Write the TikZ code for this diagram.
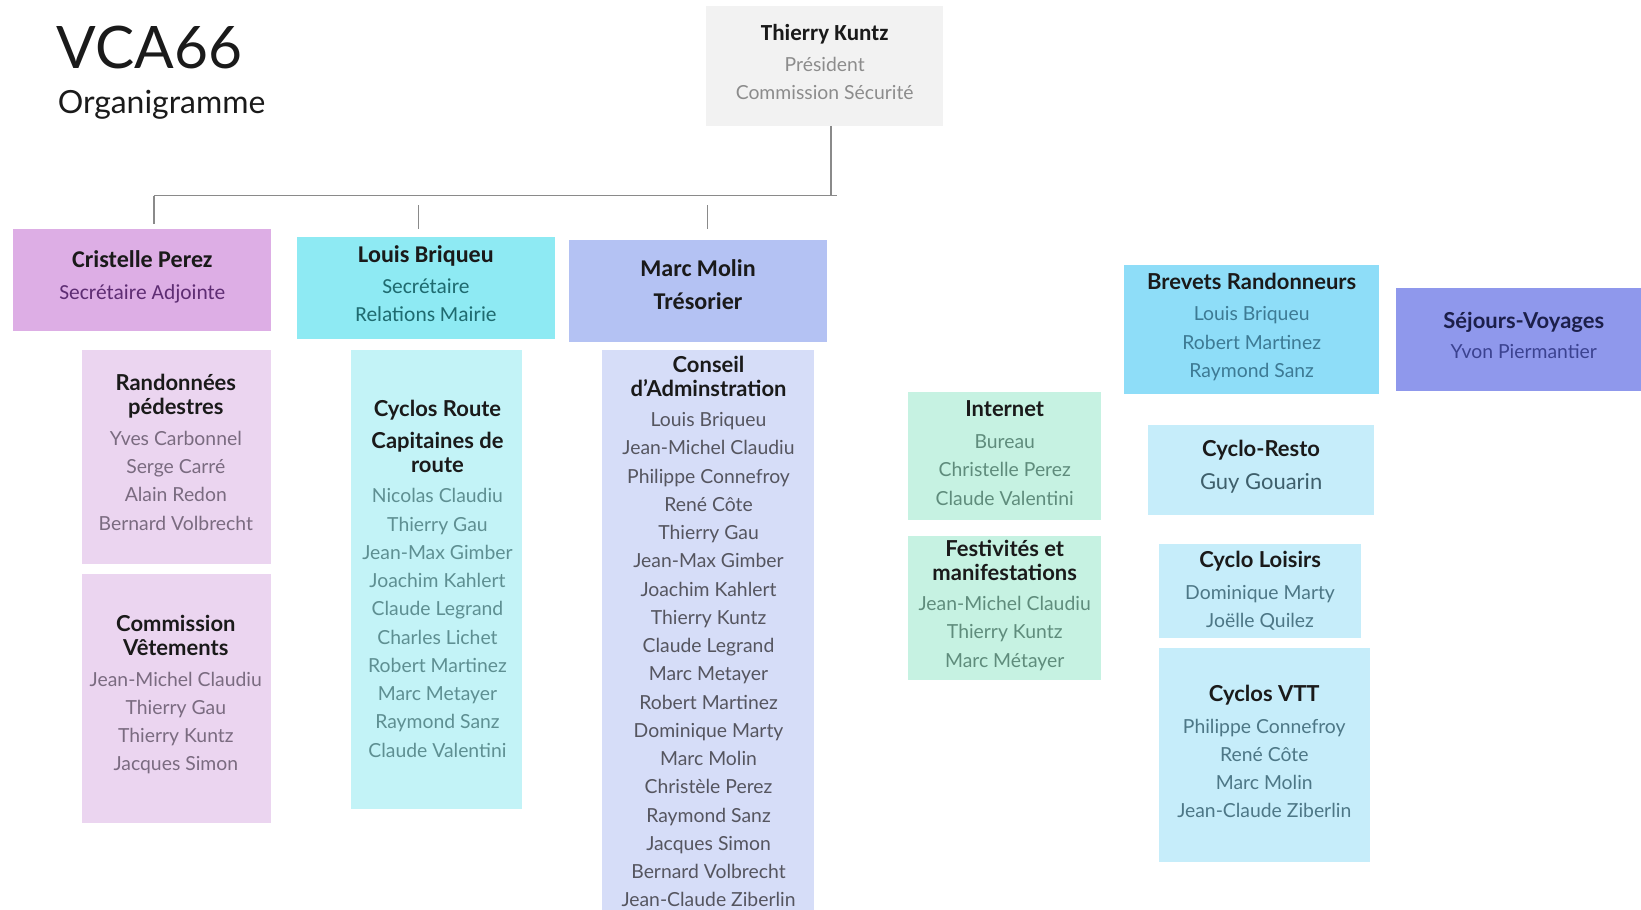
\documentclass[tikz,border=0pt]{standalone}
\usepackage{fontspec}
\setmainfont{Lato}
\newfontfamily\calib{Carlito}
\definecolor{hdr}{HTML}{1A1A1A}
\definecolor{conn}{HTML}{8A8A8A}
\definecolor{fgray}{HTML}{F2F2F2}
\definecolor{fpurp}{HTML}{DDAEE5}
\definecolor{fcyan}{HTML}{8EEAF3}
\definecolor{fperi}{HTML}{B4C2F3}
\definecolor{fpink}{HTML}{EBD5F0}
\definecolor{flcyan}{HTML}{C3F3F7}
\definecolor{flperi}{HTML}{D6DDF8}
\definecolor{fmint}{HTML}{C6F2E2}
\definecolor{fsky}{HTML}{8EDDF8}
\definecolor{fviol}{HTML}{8F98EC}
\definecolor{flsky}{HTML}{C6EDFA}
\definecolor{tgray}{HTML}{8C8C8C}
\definecolor{tpurp}{HTML}{5E2D73}
\definecolor{tteal}{HTML}{1F6B70}
\definecolor{tpink}{HTML}{7A6B80}
\definecolor{tcyan}{HTML}{5E8F92}
\definecolor{tperi}{HTML}{55555F}
\definecolor{tmint}{HTML}{5F8C7C}
\definecolor{tsky}{HTML}{3D7A94}
\definecolor{tviolh}{HTML}{1C1F4A}
\definecolor{tviol}{HTML}{3B4290}
\definecolor{tlsky}{HTML}{4D7786}
\definecolor{tlskyd}{HTML}{3E5F6B}
\tikzset{
  orgbox/.style={draw=none, inner sep=0pt, rectangle},
  tline/.style={inner sep=0pt, anchor=mid, yshift=-5pt},
  hline/.style={tline, text=hdr, font=\fontsize{21}{25}\selectfont\bfseries},
  calhead/.style={tline, text=hdr, font=\calib\fontsize{23}{27}\selectfont\bfseries},
  calsub/.style={tline, font=\calib\fontsize{20.5}{24}\selectfont},
  nline/.style={tline, font=\fontsize{18.5}{22}\selectfont},
  connector/.style={draw=conn, line width=1.5pt}
}
% name, x1, y1, x2, y2, fill
\newcommand{\orgrect}[6]{%
  \node[orgbox, fill=#6, minimum width={#4-#2}, minimum height={#5-#3}] (#1) at ({(#2+#4)/2},{(#3+#5)/2}) {};}
% prefix, x, y0, dy, style, list
\newcommand{\tlines}[6]{%
  \foreach \tt [count=\ii] in {#6} {\node[#5] (#1-\ii) at (#2,{#3+#4*(\ii-1)}) {\tt};}}
\begin{document}
\begin{tikzpicture}[x=1pt,y=-1pt]
\useasboundingbox (0,0) rectangle (1568,869);
% title
\node[anchor=base west, inner sep=0pt, text=hdr, font=\fontsize{56}{60}\selectfont] (title) at (54,65) {VCA66};
\node[anchor=base west, inner sep=0pt, text=hdr, font=\fontsize{30.5}{34}\selectfont] (subtitle) at (55,108) {Organigramme};
% president
\orgrect{tk}{675}{6}{901}{120}{fgray}
\node[calhead, font=\calib\fontsize{22}{26}\selectfont\bfseries] (tk-h) at (788,31) {Thierry Kuntz};
\tlines{tk-n}{788}{61}{27}{nline, text=tgray}{Président, Commission Sécurité}
% connectors
\coordinate (j0) at (794,187);
\coordinate (jl) at (147,187);
\coordinate (jr) at (800,187);
\coordinate (d1) at (147,214);
\coordinate (d2a) at (400,196);
\coordinate (d2b) at (400,219);
\coordinate (d3a) at (676,196);
\coordinate (d3b) at (676,219);
\draw[connector] (tk.south -| j0) -- (j0);
\draw[connector] (jl) -- (jr);
\draw[connector] (jl) -- (d1);
\draw[connector] (d2a) -- (d2b);
\draw[connector] (d3a) -- (d3b);
% top row
\orgrect{cp}{12}{219}{259}{316}{fpurp}
\node[calhead] (cp-h) at (136,248) {Cristelle Perez};
\node[calsub, text=tpurp] (cp-s) at (136,279) {Secrétaire Adjointe};
\orgrect{lb}{284}{226}{530}{324}{fcyan}
\node[calhead] (lb-h) at (407,243) {Louis Briqueu};
\tlines{lb-s}{407}{273}{27}{calsub, text=tteal}{Secrétaire, Relations Mairie}
\orgrect{mm}{544}{229}{790}{327}{fperi}
\tlines{mm-h}{667}{257}{31}{calhead}{Marc Molin, Trésorier}
% Randonnées pédestres
\orgrect{rp}{78}{334}{259}{539}{fpink}
\tlines{rp-h}{168}{366}{23}{hline}{Randonnées, pédestres}
\tlines{rp-n}{168}{418}{27}{nline, text=tpink}{Yves Carbonnel, Serge Carré, Alain Redon, Bernard Volbrecht}
% Commission Vêtements
\orgrect{cv}{78}{548}{259}{786}{fpink}
\tlines{cv-h}{168}{596}{23}{hline}{Commission, Vêtements}
\tlines{cv-n}{168}{648}{27}{nline, text=tpink}{Jean-Michel Claudiu, Thierry Gau, Thierry Kuntz, Jacques Simon}
% Cyclos Route
\orgrect{cr}{335}{334}{499}{773}{flcyan}
\node[hline] (cr-h) at (418,390) {Cyclos Route};
\tlines{cr-c}{418}{421}{23}{hline}{Capitaines de, route}
\tlines{cr-n}{418}{473}{27}{nline, text=tcyan}{Nicolas Claudiu, Thierry Gau, Jean-Max Gimber, Joachim Kahlert, Claude Legrand, Charles Lichet, Robert Martinez, Marc Metayer, Raymond Sanz, Claude Valentini}
% Conseil d'Adminstration
\orgrect{ca}{575}{334}{778}{885}{flperi}
\tlines{ca-h}{677}{348}{23}{hline}{Conseil, d’Adminstration}
\tlines{ca-n}{677}{400}{27}{nline, text=tperi}{Louis Briqueu, Jean-Michel Claudiu, Philippe Connefroy, René Côte, Thierry Gau, Jean-Max Gimber, Joachim Kahlert, Thierry Kuntz, Claude Legrand, Marc Metayer, Robert Martinez, Dominique Marty, Marc Molin, Christèle Perez, Raymond Sanz, Jacques Simon, Bernard Volbrecht, Jean-Claude Ziberlin}
% Internet
\orgrect{in}{868}{375}{1052}{497}{fmint}
\node[hline] (in-h) at (960,390) {Internet};
\tlines{in-n}{960}{421}{27}{nline, text=tmint}{Bureau, Christelle Perez, Claude Valentini}
% Festivités
\orgrect{fm}{868}{512}{1052}{650}{fmint}
\tlines{fm-h}{960}{524}{23}{hline}{Festivités et, manifestations}
\tlines{fm-n}{960}{576}{27}{nline, text=tmint}{Jean-Michel Claudiu, Thierry Kuntz, Marc Métayer}
% Brevets Randonneurs
\orgrect{br}{1074}{253}{1318}{376}{fsky}
\node[hline] (br-h) at (1196,269) {Brevets Randonneurs};
\tlines{br-n}{1196}{299}{27}{nline, text=tsky}{Louis Briqueu, Robert Martinez, Raymond Sanz}
% Séjours-Voyages
\orgrect{sv}{1334}{275}{1568}{374}{fviol}
\node[hline, text=tviolh] (sv-h) at (1456,306) {Séjours-Voyages};
\node[nline, text=tviol] (sv-n) at (1456,335) {Yvon Piermantier};
% Cyclo-Resto
\orgrect{cy}{1097}{406}{1313}{492}{flsky}
\node[hline] (cy-h) at (1205,429) {Cyclo-Resto};
\node[tline, font=\fontsize{21}{25}\selectfont, text=tlskyd] (cy-n) at (1205,460) {Guy Gouarin};
% Cyclo Loisirs
\orgrect{cl}{1107}{520}{1300}{610}{flsky}
\node[hline] (cl-h) at (1204,535) {Cyclo Loisirs};
\tlines{cl-n}{1204}{565}{27}{nline, text=tlsky}{Dominique Marty, Joëlle Quilez}
% Cyclos VTT
\orgrect{vt}{1107}{619}{1309}{824}{flsky}
\node[hline] (vt-h) at (1208,663) {Cyclos VTT};
\tlines{vt-n}{1208}{693}{27}{nline, text=tlsky}{Philippe Connefroy, René Côte, Marc Molin, Jean-Claude Ziberlin}
\end{tikzpicture}
\end{document}
